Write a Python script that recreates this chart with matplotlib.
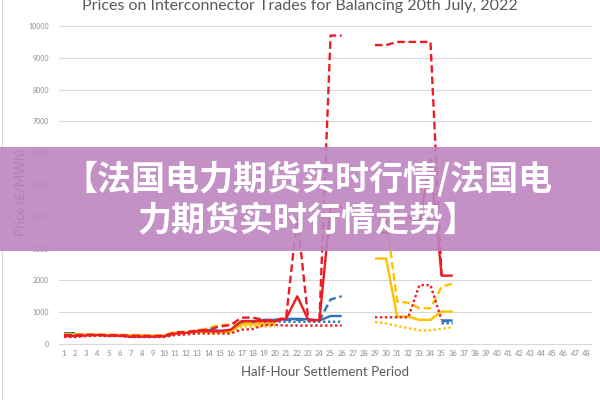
import numpy as np
import matplotlib
matplotlib.use("Agg")
import matplotlib.pyplot as plt
from matplotlib.lines import Line2D
from matplotlib.patches import Rectangle

nan = np.nan

# Half-hour settlement periods
periods = list(range(1, 49))
tail = [nan] * 12

# Red interconnector: avg (solid), max (dashed), min (dotted)
red_avg = [250, 250, 270, 280, 260, 260, 230, 230, 230, 240, 330, 350, 400, 400, 400, 450,
           720, 720, 720, 720, 800, 1500, 750, 750, 4300, 4300, nan, nan,
           3500, 3500, 4000, 4000, 3800, 5800, 2150, 2150] + tail
red_max = [280, 280, 290, 290, 280, 280, 260, 260, 250, 260, 360, 380, 420, 450, 550, 600,
           830, 830, 750, 750, 830, 4000, 750, 750, 9700, 9700, nan, nan,
           9400, 9400, 9500, 9500, 9500, 9500, 2150, nan] + tail
red_min = [220, 220, 250, 260, 250, 250, 220, 220, 220, 220, 280, 300, 330, 330, 330, 330,
           450, 470, 600, 600, 580, 580, 580, 580, 580, 580, nan, nan,
           840, 840, 840, 840, 1850, 1850, 760, nan] + tail

# Blue interconnector
blue_avg = [340, 340, nan, nan, nan, nan, 280, 280, nan, nan, nan, nan, 440, 440, 420, 420,
            680, 700, 760, 760, 790, 790, 780, 740, 880, 880, nan, nan,
            nan, nan, nan, nan, nan, nan, 740, 740] + tail
blue_max = [330, 330, nan, nan, nan, nan, 270, 270, nan, nan, nan, nan, 420, 420, 400, 400,
            700, 720, 740, 740, 760, 760, 760, 740, 1400, 1500, nan, nan,
            nan, nan, nan, nan, nan, nan, 720, 720] + tail
blue_min = [320, 320, nan, nan, nan, nan, 260, 260, nan, nan, nan, nan, 380, 380, 370, 370,
            650, 680, 700, 700, 700, 700, 700, 700, 700, 700, nan, nan,
            nan, nan, nan, nan, nan, nan, 650, 650] + tail

# Orange interconnector
orange_avg = [300, 300, 290, 290, 280, 280, 270, 270, 260, 260, 330, 350, 380, 380, 380, 400,
              620, 620, 620, 620, nan, nan, nan, nan, nan, nan, nan, nan,
              2690, 2690, 860, 860, 760, 760, 1020, 1020] + tail
orange_max = [310, 310, 300, 300, 290, 290, 280, 280, 270, 270, 380, 380, 420, 500, 600, 600,
              650, 650, 650, 650, nan, nan, nan, nan, nan, nan, nan, nan,
              4000, 4000, 1330, 1300, 1125, 1125, 1800, 1900] + tail
orange_min = [280, 270, 280, 260, 250, 260, 240, 240, 240, 250, 380, 350, 420, 350, 350, 350,
              550, 550, 550, 560, nan, nan, nan, nan, nan, nan, nan, nan,
              690, 650, 570, 500, 430, 430, 480, 530] + tail

yticks = list(range(0, 10001, 1000))

title = "Prices on Interconnector Trades for Balancing 20th July, 2022"
banner_lines = ["【法国电力期货实时行情/法国电", "力期货实时行情走势】"]

RED = "#ec1c24"
BLUE = "#2e75b6"
GOLD = "#ffc000"
GREY = "#595959"
dashed = (0, (3.2, 1.6))
dotted = (0, (1.0, 1.1))

fig = plt.figure(figsize=(6, 4), dpi=100)
ax = fig.add_axes([58.5 / 600, 1 - 344 / 400, 533 / 600, 318 / 400])

series = [
    (blue_min, BLUE, dotted), (blue_avg, BLUE, "-"), (blue_max, BLUE, dashed),
    (orange_min, GOLD, dotted), (orange_avg, GOLD, "-"), (orange_max, GOLD, dashed),
    (red_min, RED, dotted), (red_avg, RED, "-"), (red_max, RED, dashed),
]
for vals, col, ls in series:
    ax.plot(periods, vals, color=col, linestyle=ls, linewidth=1.7,
            solid_capstyle="butt", dash_capstyle="butt")

ax.set_xlim(0.5, 48.5)
ax.set_ylim(0, 10000)
ax.set_xticks(periods)
ax.set_xticklabels([str(p) for p in periods])
ax.set_yticks(yticks)
ax.set_yticklabels([str(v) for v in yticks])
ax.tick_params(axis="x", length=0, pad=4, labelsize=5.5, labelcolor="#8c8c8c")
ax.tick_params(axis="y", length=0, pad=7, labelsize=5, labelcolor="#8c8c8c")
for lab in ax.get_xticklabels() + ax.get_yticklabels():
    lab.set_family("Lato")
ax.yaxis.grid(True, color="#d9d9d9", linewidth=0.8)
ax.set_axisbelow(True)
for s in ["top", "right", "left"]:
    ax.spines[s].set_visible(False)
ax.spines["bottom"].set_color("#d9d9d9")
ax.spines["bottom"].set_linewidth(0.8)

fig.text(0.5, 1 - 6 / 400, title, ha="center", va="center",
         fontsize=11.5, color=GREY, family="Lato")
fig.text(325 / 600, 1 - 372 / 400, "Half-Hour Settlement Period", ha="center",
         va="center", fontsize=9.5, color=GREY, family="Lato")
fig.text(21 / 600, 1 - 193 / 400, "Price (£/MWh)", ha="center", va="center",
         rotation=90, fontsize=9.5, color=GREY, family="Lato")

# chart border on the left
fig.add_artist(Line2D([2 / 600, 2 / 600], [0, 1], color="#d9d9d9", linewidth=0.8))

# purple banner overlay
fig.add_artist(Rectangle((0, 1 - 251 / 400), 1, 104 / 400, transform=fig.transFigure,
                         facecolor="#bd85c0", alpha=0.9, edgecolor="none", zorder=5))
fig.text(0.513, 1 - 179 / 400, banner_lines[0], ha="center", va="center", fontsize=24.5,
         color="white", fontweight="bold", family=["Noto Sans CJK SC", "DejaVu Sans"], zorder=6)
fig.text(0.513, 1 - 220 / 400, banner_lines[1], ha="center", va="center", fontsize=24.5,
         color="white", fontweight="bold", family=["Noto Sans CJK SC", "DejaVu Sans"], zorder=6)

fig.savefig("out.png", dpi=100)
